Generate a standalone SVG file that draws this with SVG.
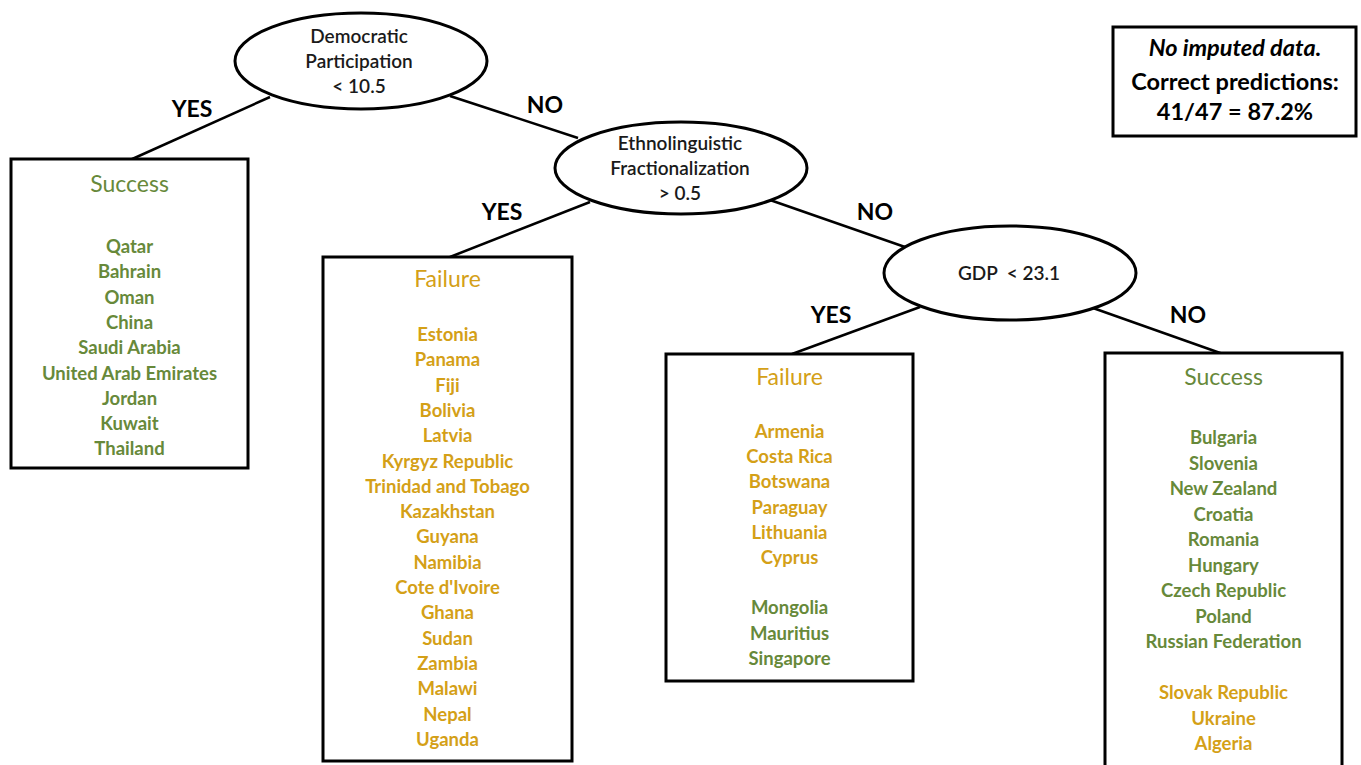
<svg xmlns="http://www.w3.org/2000/svg" width="1361" height="765" viewBox="0 0 1361 765">
<style>
text{font-family:Lato,"Liberation Sans",sans-serif;text-anchor:middle}
.shape{fill:#fff;stroke:#000;stroke-width:3}
.conn line{stroke:#000;stroke-width:2.5}
.cond{font-size:19px;font-weight:600;fill:#1a1a1a}
.lbl{font-size:23px;font-weight:bold;fill:#000}
.title{font-size:23px}
.item{font-size:18.5px;font-weight:bold}
.ok{fill:#67893A}
.bad{fill:#D4A017}
.note{font-size:23.5px;font-weight:bold;fill:#000}
</style>
<g id="connectors" class="conn">
<line x1="270" y1="97" x2="130" y2="160"/>
<line x1="450" y1="96" x2="578" y2="138"/>
<line x1="590" y1="202" x2="450" y2="257"/>
<line x1="770" y1="200" x2="905" y2="247"/>
<line x1="920" y1="307" x2="792" y2="354"/>
<line x1="1093" y1="308" x2="1223" y2="354"/>
</g>
<g id="edge-labels">
<text class="lbl" x="192" y="117">YES</text>
<text class="lbl" x="545" y="113">NO</text>
<text class="lbl" x="502" y="220">YES</text>
<text class="lbl" x="875" y="220">NO</text>
<text class="lbl" x="831" y="323">YES</text>
<text class="lbl" x="1188" y="323">NO</text>
</g>
<g id="n-democratic">
<ellipse class="shape" cx="361" cy="61" rx="126" ry="48"/>
<text class="cond" x="359" y="43">Democratic</text>
<text class="cond" x="359" y="68">Participation</text>
<text class="cond" x="359" y="93">&lt; 10.5</text>
</g>
<g id="n-ethno">
<ellipse class="shape" cx="681" cy="168" rx="126" ry="46"/>
<text class="cond" x="680" y="150">Ethnolinguistic</text>
<text class="cond" x="680" y="175">Fractionalization</text>
<text class="cond" x="680" y="200">&gt; 0.5</text>
</g>
<g id="n-gdp">
<ellipse class="shape" cx="1010" cy="273" rx="126" ry="47"/>
<text class="cond" x="1009" y="280" xml:space="preserve">GDP  &lt; 23.1</text>
</g>
<g id="leaf-success-1">
<rect class="shape" x="11" y="159" width="237" height="309"/>
<text class="title ok" x="129.5" y="192">Success</text>
<text class="item ok" x="129.5" y="253">Qatar</text>
<text class="item ok" x="129.5" y="278.3">Bahrain</text>
<text class="item ok" x="129.5" y="303.6">Oman</text>
<text class="item ok" x="129.5" y="328.9">China</text>
<text class="item ok" x="129.5" y="354.2">Saudi Arabia</text>
<text class="item ok" x="129.5" y="379.5">United Arab Emirates</text>
<text class="item ok" x="129.5" y="404.8">Jordan</text>
<text class="item ok" x="129.5" y="430.1">Kuwait</text>
<text class="item ok" x="129.5" y="455.4">Thailand</text>
</g>
<g id="leaf-failure-1">
<rect class="shape" x="323" y="257" width="249" height="504"/>
<text class="title bad" x="447.5" y="287">Failure</text>
<text class="item bad" x="447.5" y="341">Estonia</text>
<text class="item bad" x="447.5" y="366.3">Panama</text>
<text class="item bad" x="447.5" y="391.6">Fiji</text>
<text class="item bad" x="447.5" y="416.9">Bolivia</text>
<text class="item bad" x="447.5" y="442.2">Latvia</text>
<text class="item bad" x="447.5" y="467.5">Kyrgyz Republic</text>
<text class="item bad" x="447.5" y="492.8">Trinidad and Tobago</text>
<text class="item bad" x="447.5" y="518.1">Kazakhstan</text>
<text class="item bad" x="447.5" y="543.4">Guyana</text>
<text class="item bad" x="447.5" y="568.7">Namibia</text>
<text class="item bad" x="447.5" y="594">Cote d'Ivoire</text>
<text class="item bad" x="447.5" y="619.3">Ghana</text>
<text class="item bad" x="447.5" y="644.6">Sudan</text>
<text class="item bad" x="447.5" y="669.9">Zambia</text>
<text class="item bad" x="447.5" y="695.2">Malawi</text>
<text class="item bad" x="447.5" y="720.5">Nepal</text>
<text class="item bad" x="447.5" y="745.8">Uganda</text>
</g>
<g id="leaf-failure-2">
<rect class="shape" x="666" y="354" width="247" height="327"/>
<text class="title bad" x="789.5" y="385">Failure</text>
<text class="item bad" x="789.5" y="438">Armenia</text>
<text class="item bad" x="789.5" y="463.2">Costa Rica</text>
<text class="item bad" x="789.5" y="488.4">Botswana</text>
<text class="item bad" x="789.5" y="513.6">Paraguay</text>
<text class="item bad" x="789.5" y="538.8">Lithuania</text>
<text class="item bad" x="789.5" y="564">Cyprus</text>
<text class="item ok" x="789.5" y="614.4">Mongolia</text>
<text class="item ok" x="789.5" y="639.6">Mauritius</text>
<text class="item ok" x="789.5" y="664.8">Singapore</text>
</g>
<g id="leaf-success-2">
<rect class="shape" x="1105" y="353" width="237" height="420"/>
<text class="title ok" x="1223.5" y="385">Success</text>
<text class="item ok" x="1223.5" y="444">Bulgaria</text>
<text class="item ok" x="1223.5" y="469.5">Slovenia</text>
<text class="item ok" x="1223.5" y="495">New Zealand</text>
<text class="item ok" x="1223.5" y="520.5">Croatia</text>
<text class="item ok" x="1223.5" y="546">Romania</text>
<text class="item ok" x="1223.5" y="571.5">Hungary</text>
<text class="item ok" x="1223.5" y="597">Czech Republic</text>
<text class="item ok" x="1223.5" y="622.5">Poland</text>
<text class="item ok" x="1223.5" y="648">Russian Federation</text>
<text class="item bad" x="1223.5" y="699">Slovak Republic</text>
<text class="item bad" x="1223.5" y="724.5">Ukraine</text>
<text class="item bad" x="1223.5" y="750">Algeria</text>
</g>
<g id="note">
<rect class="shape" x="1113" y="27" width="243" height="109"/>
<text class="note" x="1235" y="56" font-style="italic">No imputed data.</text>
<text class="note" x="1235" y="90">Correct predictions:</text>
<text class="note" x="1235" y="120">41/47 = 87.2%</text>
</g>
</svg>
